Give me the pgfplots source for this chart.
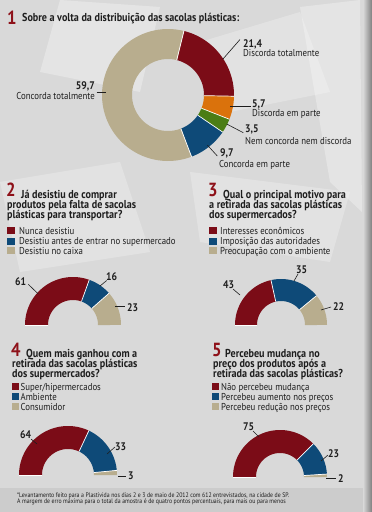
\documentclass[border=0pt]{standalone}
\usepackage{pgfplots}
\pgfplotsset{compat=1.18}
\usepackage{fontspec}
\setmainfont{PT Sans}[FakeStretch=0.88]
\definecolor{cred}{HTML}{7B0C17}
\definecolor{cblue}{HTML}{0E4A78}
\definecolor{cbeige}{HTML}{B8AD8E}
\definecolor{corange}{HTML}{DA720C}
\definecolor{cgreen}{HTML}{4B7D15}
\definecolor{bg}{HTML}{D9D9D9}
\definecolor{txt}{HTML}{1E1E1E}
\definecolor{numred}{HTML}{8E1119}
% ring: cx, cy, R, r, start angle
\newcommand\pieinit[5]{%
  \xdef\pcx{#1}\xdef\pcy{#2}\xdef\pR{#3}\xdef\pr{#4}%
  \pgfmathsetmacro\tmpa{(#3+#4)/2}\xdef\prm{\tmpa}%
  \pgfmathsetmacro\tmpb{#3-#4}\xdef\plw{\tmpb}%
  \xdef\pcur{#5}\gdef\pseps{}}
% value, degrees per unit, colour
\newcommand\piece[3]{%
  \pgfmathsetmacro\pnext{\pcur-#1*#2}%
  \edef\doplot{\noexpand\addplot[color=#3, line width=\plw pt, mark=none,
     domain=\pnext:\pcur, samples=60, variable=\noexpand\t]
     ({\pcx+\prm*cos(\noexpand\t)},{\pcy-\prm*sin(\noexpand\t)});}%
  \doplot
  \xdef\pseps{\unexpanded\expandafter{\pseps}\noexpand\draw[white, line width=0.7pt] (axis cs:\pcx,\pcy) ++(\pcur:\pr pt) -- ++(\pcur:\plw pt);}%
  \xdef\pcur{\pnext}}
\newcommand\pieseps{\pseps}
\tikzset{
  bignum/.style={anchor=base west, inner sep=0pt, text=numred, font=\bfseries\fontsize{19}{19}\selectfont},
  ttl/.style={anchor=base west, inner sep=0pt, text=txt, font=\bfseries\fontsize{11.5}{11}\selectfont},
  leg/.style={anchor=base west, inner sep=0pt, text=txt, font=\fontsize{10}{10}\selectfont},
  val/.style={anchor=base west, inner sep=0pt, text=txt, font=\bfseries\fontsize{11}{11}\selectfont},
  cat/.style={anchor=base west, inner sep=0pt, text=txt, font=\fontsize{10}{10}\selectfont},
  ldr/.style={draw=txt, line width=0.6pt},
  foot/.style={anchor=base west, inner sep=0pt, text=txt, font=\fontsize{6.6}{6.6}\selectfont},
}
\begin{document}
\begin{tikzpicture}
\fill[bg] (0,0) rectangle (372pt,512pt);
% soft lighter patches of the crumpled bag background
\fill[white, opacity=0.30] (60pt,512pt) -- (160pt,505pt) -- (140pt,420pt) -- (40pt,440pt) -- cycle;
\fill[white, opacity=0.25] (200pt,470pt) -- (300pt,500pt) -- (330pt,420pt) -- (230pt,400pt) -- cycle;
\fill[white, opacity=0.25] (0pt,330pt) -- (120pt,350pt) -- (150pt,260pt) -- (20pt,240pt) -- cycle;
\fill[white, opacity=0.25] (190pt,340pt) -- (350pt,320pt) -- (330pt,250pt) -- (200pt,270pt) -- cycle;
\fill[white, opacity=0.30] (300pt,505pt) -- (360pt,512pt) -- (362pt,300pt) -- (330pt,330pt) -- cycle;
\fill[black, opacity=0.06] (0pt,0pt) rectangle (372pt,24pt);
\shade[left color=bg, right color=black!50] (363pt,0pt) rectangle (372pt,512pt);
\begin{axis}[at={(0,0)}, anchor=south west, scale only axis, width=372pt, height=512pt,
  xmin=0, xmax=372, ymin=0, ymax=512, y dir=reverse, hide axis, clip=false]
% ---------- chart 1 ----------
\pieinit{168}{95}{66}{36}{76}
\piece{21.4}{3.6}{cred}
\piece{5.7}{3.6}{corange}
\piece{3.5}{3.6}{cgreen}
\piece{9.7}{3.6}{cblue}
\piece{59.7}{3.6}{cbeige}
\pieseps
\node[bignum] at (axis cs:7,24) {1};
\node[ttl] at (axis cs:22,21) {Sobre a volta da distribuição das sacolas plásticas:};
\node[val] at (axis cs:243,47) {21,4};
\node[cat] at (axis cs:243,56) {Discorda totalmente};
\draw[ldr] (axis cs:222.7,59.3) -- (axis cs:240,39.5);
\node[val, anchor=base east] at (axis cs:95,89) {59,7};
\node[cat, anchor=base east] at (axis cs:95,99) {Concorda totalmente};
\draw[ldr] (axis cs:96.7,92.3) -- (axis cs:106,92.3);
\node[val] at (axis cs:252,107) {5,7};
\node[cat] at (axis cs:252,116) {Discorda em parte};
\draw[ldr] (axis cs:230,106.7) -- (axis cs:250.7,106.7);
\node[val] at (axis cs:245,132) {3,5};
\node[cat] at (axis cs:245,144) {Nem concorda nem discorda};
\draw[ldr] (axis cs:226.7,124) -- (axis cs:243.3,132.7);
\node[val] at (axis cs:220,156) {9,7};
\node[cat] at (axis cs:219,167) {Concorda em parte};
\draw[ldr] (axis cs:207.3,145) -- (axis cs:217.3,156);
% ---------- chart 2 ----------
\pieinit{73}{325}{48}{25}{180}
\piece{61}{1.8}{cred}
\piece{16}{1.8}{cblue}
\piece{23}{1.8}{cbeige}
\pieseps
\node[bignum] at (axis cs:6,196.3) {2};
\node[ttl] at (axis cs:21,198) {Já desistiu de comprar};
\node[ttl] at (axis cs:7,208.8) {produtos pela falta de sacolas};
\node[ttl] at (axis cs:7,218.8) {plásticas para transportar?};
\fill[cred] (axis cs:7,227) rectangle (axis cs:15,234);
\fill[cblue] (axis cs:7,237.5) rectangle (axis cs:15,244.5);
\fill[cbeige] (axis cs:7,247) rectangle (axis cs:15,254);
\node[leg] at (axis cs:19,234.5) {Nunca desistiu};
\node[leg] at (axis cs:19,244.5) {Desistiu antes de entrar no supermercado};
\node[leg] at (axis cs:19,254.5) {Desistiu no caixa};
\node[val] at (axis cs:15,285) {61};
\draw[ldr] (axis cs:28.3,284.3) -- (axis cs:38.3,294);
\node[val] at (axis cs:106,280) {16};
\draw[ldr] (axis cs:100,286) -- (axis cs:106.7,280.5);
\node[val] at (axis cs:127,311) {23};
\draw[ldr] (axis cs:115,306.7) -- (axis cs:125,306.7);
% ---------- chart 3 ----------
\pieinit{281}{325}{46}{24}{180}
\piece{43}{1.8}{cred}
\piece{35}{1.8}{cblue}
\piece{22}{1.8}{cbeige}
\pieseps
\node[bignum] at (axis cs:208,196) {3};
\node[ttl] at (axis cs:223,198) {Qual o principal motivo para};
\node[ttl] at (axis cs:209,208.5) {a retirada das sacolas plásticas};
\node[ttl] at (axis cs:209,218.5) {dos supermercados?};
\fill[cred] (axis cs:209,227) rectangle (axis cs:217,234);
\fill[cblue] (axis cs:209,237.5) rectangle (axis cs:217,244.5);
\fill[cbeige] (axis cs:209,247) rectangle (axis cs:217,254);
\node[leg] at (axis cs:220,234.5) {Interesses econômicos};
\node[leg] at (axis cs:220,244.5) {Imposição das autoridades};
\node[leg] at (axis cs:220,254.5) {Preocupação com o ambiente};
\node[val] at (axis cs:223,288) {43};
\draw[ldr] (axis cs:233,289) -- (axis cs:240,295);
\node[val] at (axis cs:296,273) {35};
\draw[ldr] (axis cs:298,274) -- (axis cs:294,281);
\node[val] at (axis cs:333,310) {22};
\draw[ldr] (axis cs:321,310) -- (axis cs:331,307);
% ---------- chart 4 ----------
\pieinit{68}{475}{49}{26}{180}
\piece{64}{1.8}{cred}
\piece{33}{1.8}{cblue}
\piece{3}{1.8}{cbeige}
\pieseps
\node[bignum] at (axis cs:11,356) {4};
\node[ttl] at (axis cs:26,357) {Quem mais ganhou com a};
\node[ttl] at (axis cs:12,367.5) {retirada das sacolas plásticas};
\node[ttl] at (axis cs:12,377.5) {dos supermercados?};
\fill[cred] (axis cs:12,383) rectangle (axis cs:18.5,390);
\fill[cblue] (axis cs:12,393) rectangle (axis cs:18.5,400);
\fill[cbeige] (axis cs:12,403) rectangle (axis cs:18.5,409.5);
\node[leg] at (axis cs:20.5,390) {Super/hipermercados};
\node[leg] at (axis cs:20.5,400) {Ambiente};
\node[leg] at (axis cs:20.5,410) {Consumidor};
\node[val] at (axis cs:20,438) {64};
\draw[ldr] (axis cs:31,439) -- (axis cs:37,444);
\node[val] at (axis cs:115,450) {33};
\draw[ldr] (axis cs:107,454) -- (axis cs:115,447);
\node[val] at (axis cs:128,479) {3};
\draw[ldr] (axis cs:118,476) -- (axis cs:126,476);
% ---------- chart 5 ----------
\pieinit{280}{477}{47}{24}{180}
\piece{75}{1.8}{cred}
\piece{23}{1.8}{cblue}
\piece{2}{1.8}{cbeige}
\pieseps
\node[bignum] at (axis cs:212,356) {5};
\node[ttl] at (axis cs:225,357) {Percebeu mudança no};
\node[ttl] at (axis cs:213,367.5) {preço dos produtos após a};
\node[ttl] at (axis cs:213,377.5) {retirada das sacolas plásticas?};
\fill[cred] (axis cs:212,383) rectangle (axis cs:218.5,390);
\fill[cblue] (axis cs:212,393) rectangle (axis cs:218.5,400);
\fill[cbeige] (axis cs:212,403) rectangle (axis cs:218.5,409.5);
\node[leg] at (axis cs:221,390) {Não percebeu mudança};
\node[leg] at (axis cs:221,400) {Percebeu aumento nos preços};
\node[leg] at (axis cs:221,410) {Percebeu redução nos preços};
\node[val] at (axis cs:243,430) {75};
\draw[ldr] (axis cs:253,431) -- (axis cs:259,437);
\node[val] at (axis cs:328,457) {23};
\draw[ldr] (axis cs:321,461) -- (axis cs:328,455);
\node[val] at (axis cs:338,482) {2};
\draw[ldr] (axis cs:326,478) -- (axis cs:336,478);
% ---------- footnote ----------
\node[foot] at (axis cs:17,497) {*Levantamento feito para a Plastivida nos dias 2 e 3 de maio de 2012 com 612 entrevistados, na cidade de SP.};
\node[foot] at (axis cs:17,503.5) {A margem de erro máxima para o total da amostra é de quatro pontos percentuais, para mais ou para menos};
\end{axis}
\end{tikzpicture}
\end{document}
